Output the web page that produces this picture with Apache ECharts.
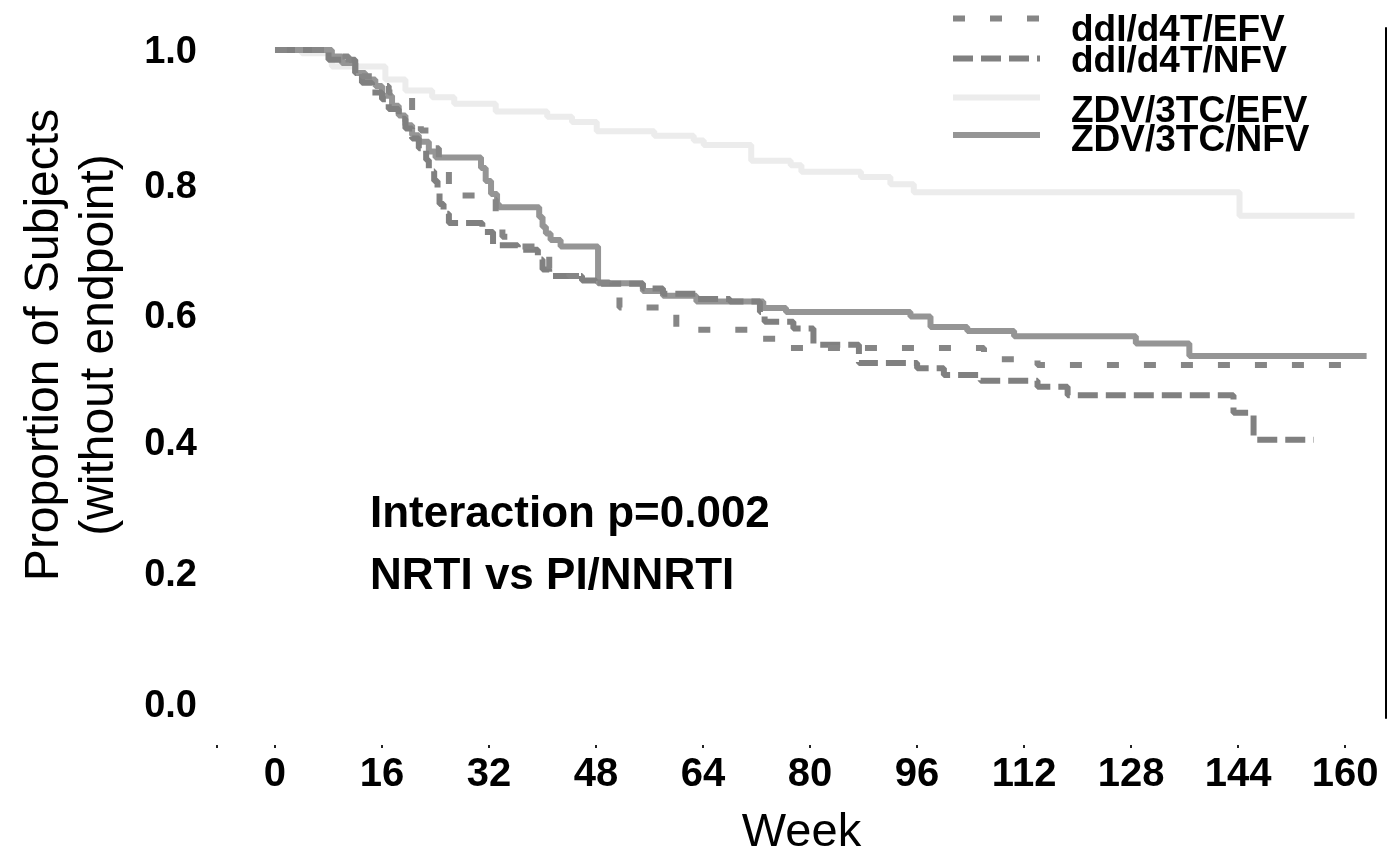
<!DOCTYPE html>
<html><head><meta charset="utf-8">
<script src="https://cdn.jsdelivr.net/npm/echarts@6/dist/echarts.min.js"></script>
<style>html,body{margin:0;padding:0;background:#fff}#c{width:1388px;height:852px}</style>
</head><body><div id="c"></div><script>
const FONT = 'Liberation Sans, Arial, Helvetica, sans-serif';
const seriesNames = ['ddI/d4T/EFV', 'ddI/d4T/NFV', 'ZDV/3TC/EFV', 'ZDV/3TC/NFV'];

const weeksDdiEfv = [0, 8, 11, 13, 15, 17, 19, 20.5, 21.8, 23, 24.5, 26, 27, 31.5, 33, 34, 36, 39, 41, 44, 48, 50, 51.5, 60, 72, 77, 106, 114, 161.5];
const survDdiEfv  = [1, 0.99, 0.975, 0.96, 0.945, 0.935, 0.928, 0.9, 0.877, 0.85, 0.82, 0.79, 0.778, 0.772, 0.73, 0.715, 0.7, 0.685, 0.665, 0.655, 0.645, 0.625, 0.607, 0.573, 0.559, 0.545, 0.528, 0.519, 0.519];

const weeksDdiNfv = [0, 8, 12, 13, 14.5, 16, 17, 18.5, 19.5, 20.5, 21.5, 22.6, 23, 23.8, 24.3, 24.6, 25.2, 26, 31, 32.6, 36.3, 39.3, 40, 41, 45.9, 48, 55, 58, 63, 68, 72.5, 73.2, 77.5, 80.5, 87.3, 96, 100, 105.5, 114, 118.5, 143.3, 146.3, 155.3];
const survDdiNfv  = [1, 0.985, 0.965, 0.95, 0.935, 0.925, 0.91, 0.895, 0.88, 0.865, 0.85, 0.832, 0.815, 0.8, 0.785, 0.765, 0.75, 0.736, 0.722, 0.702, 0.695, 0.68, 0.665, 0.655, 0.648, 0.643, 0.636, 0.628, 0.62, 0.616, 0.6, 0.585, 0.575, 0.55, 0.522, 0.514, 0.504, 0.495, 0.486, 0.473, 0.446, 0.405, 0.405];

const weeksZdvEfv = [0, 4, 8.5, 16.5, 19.5, 23.5, 26.8, 33, 40.7, 44.4, 48.1, 56.7, 62.6, 64.1, 71.2, 77.1, 78.7, 87.6, 92, 95.5, 144.2, 161.4];
const survZdvEfv  = [1, 0.995, 0.975, 0.955, 0.938, 0.928, 0.918, 0.906, 0.898, 0.89, 0.876, 0.869, 0.862, 0.855, 0.831, 0.824, 0.814, 0.806, 0.795, 0.783, 0.747, 0.747];

const weeksZdvNfv = [0, 8.5, 10, 12, 13.5, 15, 16, 17.5, 18.5, 19.5, 20.5, 21.5, 23, 24, 30.8, 31.5, 32.3, 33.2, 33.5, 39.5, 40, 40.5, 41.2, 42.7, 48.3, 55, 58, 63, 73, 76.4, 95, 98, 103.5, 110.5, 128.7, 136.7, 163.2];
const survZdvNfv  = [1, 0.99, 0.98, 0.965, 0.955, 0.945, 0.93, 0.915, 0.9, 0.885, 0.87, 0.86, 0.845, 0.836, 0.82, 0.8, 0.78, 0.765, 0.76, 0.745, 0.73, 0.72, 0.71, 0.70, 0.644, 0.632, 0.625, 0.616, 0.606, 0.60, 0.593, 0.577, 0.571, 0.563, 0.552, 0.533, 0.533];

const xTickLabels = [0, 16, 32, 48, 64, 80, 96, 112, 128, 144, 160];
const yTickLabels = [0, 0.2, 0.4, 0.6, 0.8, 1.0];
const annotationLines = ['Interaction p=0.002', 'NRTI vs PI/NNRTI'];
const yTitleLines = ['Proportion of Subjects', '(without endpoint)'];

const X_MIN = -8.67, X_MAX = 166.1;
const Y_MIN = -0.019847, Y_MAX = 1.03359;

const zip = (w, s) => w.map((x, i) => [x, s[i]]);

const styles = [
  { color: '#868686', type: [12, 25], z: 4 },
  { color: '#808080', type: [20, 8], z: 3 },
  { color: '#ececec', type: 'solid', z: 1 },
  { color: '#959595', type: 'solid', z: 2 }
];
const dataSets = [zip(weeksDdiEfv, survDdiEfv), zip(weeksDdiNfv, survDdiNfv), zip(weeksZdvEfv, survZdvEfv), zip(weeksZdvNfv, survZdvNfv)];

const legendRows = [
  { top: 12, pad: 24 },
  { top: 43, pad: 6 },
  { top: 92, pad: 28 },
  { top: 122.5, pad: 12 }
];

// small downward nudges of the y tick labels (px), as printed in the original
const yLabelNudge = [2, 2, 2, 6, 7, 3];
const yRich = {};
yTickLabels.forEach((v, i) => {
  yRich['s' + i] = { fontFamily: FONT, fontSize: 38, fontWeight: 'bold', color: '#000', padding: [yLabelNudge[i] * 2, 0, 0, 0] };
});

const chart = echarts.init(document.getElementById('c'), null, { renderer: 'canvas' });
chart.setOption({
  animation: false,
  backgroundColor: '#fff',
  grid: [
    { left: 217, right: 2, top: 28, bottom: 134, containLabel: false, outerBoundsMode: 'none' },
    { left: 217, right: 2, top: 743, height: 2, containLabel: false, outerBoundsMode: 'none' }
  ],
  legend: seriesNames.map((n, i) => ({
    data: [n], left: 950, top: legendRows[i].top, padding: 0,
    itemWidth: 87, itemHeight: 14, selectedMode: false,
    itemStyle: { opacity: 0 },
    lineStyle: { width: 6 },
    formatter: name => '{t|' + name + '}',
    textStyle: {
      fontFamily: FONT, fontSize: 37, fontWeight: 'bold', color: '#000',
      rich: { t: { fontFamily: FONT, fontSize: 37, fontWeight: 'bold', color: '#000', padding: [legendRows[i].pad, 0, 0, 26] } }
    }
  })),
  xAxis: [
    { gridIndex: 0, type: 'value', min: X_MIN, max: X_MAX, show: false },
    {
      gridIndex: 1, type: 'value', min: X_MIN, max: X_MAX, position: 'bottom',
      axisLine: { show: false }, splitLine: { show: false },
      axisTick: { show: true, length: 3, lineStyle: { color: '#222', width: 2 }, customValues: [X_MIN].concat(xTickLabels) },
      axisLabel: { customValues: xTickLabels, fontFamily: FONT, fontSize: 40, fontWeight: 'bold', color: '#000', margin: 10 },
      name: 'Week', nameLocation: 'middle', nameGap: 65,
      nameTextStyle: { fontFamily: FONT, fontSize: 47, color: '#000' }
    }
  ],
  yAxis: [
    {
      gridIndex: 0, type: 'value', min: Y_MIN, max: Y_MAX, position: 'left',
      axisLine: { show: false }, axisTick: { show: false }, splitLine: { show: false },
      axisLabel: {
        customValues: yTickLabels,
        formatter: v => { const i = yTickLabels.findIndex(t => Math.abs(t - v) < 1e-6); return '{s' + (i < 0 ? 0 : i) + '|' + v.toFixed(1) + '}'; },
        fontFamily: FONT, fontSize: 38, fontWeight: 'bold', color: '#000', margin: 20, rich: yRich
      }
    },
    {
      gridIndex: 0, type: 'value', min: Y_MIN, max: Y_MAX, position: 'right',
      axisLine: { show: true, lineStyle: { color: '#000', width: 2 } },
      axisTick: { show: false }, axisLabel: { show: false }, splitLine: { show: false }
    },
    { gridIndex: 1, type: 'value', show: false }
  ],
  series: seriesNames.map((n, i) => ({
    name: n, type: 'line', step: 'end', symbol: 'none', silent: true,
    z: styles[i].z, xAxisIndex: 0, yAxisIndex: 0,
    itemStyle: { color: styles[i].color },
    lineStyle: { color: styles[i].color, width: 6, type: styles[i].type, cap: 'butt' },
    data: dataSets[i]
  })),
  graphic: [
    { type: 'text', x: 45, y: 345, rotation: Math.PI / 2,
      style: { text: yTitleLines[0], font: '48px ' + FONT, fill: '#000', align: 'center', verticalAlign: 'middle', textAlign: 'center', textVerticalAlign: 'middle' } },
    { type: 'text', x: 100, y: 345, rotation: Math.PI / 2,
      style: { text: yTitleLines[1], font: '48px ' + FONT, fill: '#000', align: 'center', verticalAlign: 'middle', textAlign: 'center', textVerticalAlign: 'middle' } },
    { type: 'text', x: 370, y: 515,
      style: { text: annotationLines[0], font: 'bold 44px ' + FONT, fill: '#000', align: 'left', verticalAlign: 'middle', textAlign: 'left', textVerticalAlign: 'middle' } },
    { type: 'text', x: 370, y: 577,
      style: { text: annotationLines[1], font: 'bold 44px ' + FONT, fill: '#000', align: 'left', verticalAlign: 'middle', textAlign: 'left', textVerticalAlign: 'middle' } }
  ]
});
</script></body></html>
